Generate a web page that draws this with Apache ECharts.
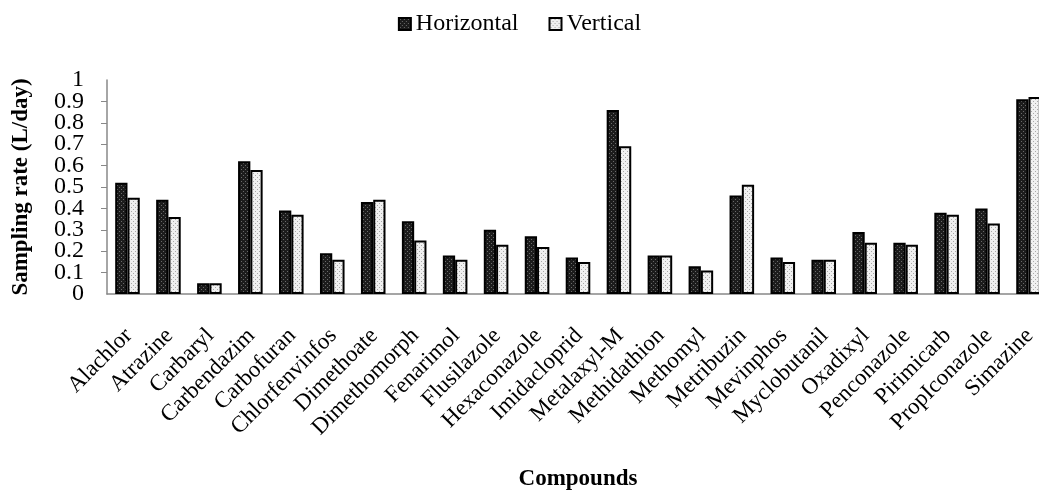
<!DOCTYPE html>
<html>
<head>
<meta charset="utf-8">
<script src="https://cdn.jsdelivr.net/npm/echarts@6/dist/echarts.min.js"></script>
<style>
  html, body { margin: 0; padding: 0; background: #fff; }
  #chart { width: 1039px; height: 491px; }
</style>
</head>
<body>
<div id="chart"></div>
<script>
var compounds = ['Alachlor', 'Atrazine', 'Carbaryl', 'Carbendazim', 'Carbofuran', 'Chlorfenvinfos',
    'Dimethoate', 'Dimethomorph', 'Fenarimol', 'Flusilazole', 'Hexaconazole', 'Imidacloprid',
    'Metalaxyl-M', 'Methidathion', 'Methomyl', 'Metribuzin', 'Mevinphos', 'Myclobutanil',
    'Oxadixyl', 'Penconazole', 'Pirimicarb', 'PropIconazole', 'Simazine'];

var horizontal = [0.52, 0.44, 0.05, 0.62, 0.39, 0.19, 0.43, 0.34, 0.18, 0.30, 0.27, 0.17,
    0.86, 0.18, 0.13, 0.46, 0.17, 0.16, 0.29, 0.24, 0.38, 0.40, 0.91];

var vertical = [0.45, 0.36, 0.05, 0.58, 0.37, 0.16, 0.44, 0.25, 0.16, 0.23, 0.22, 0.15,
    0.69, 0.18, 0.11, 0.51, 0.15, 0.16, 0.24, 0.23, 0.37, 0.33, 0.92];

var serif = '"Liberation Serif", "Times New Roman", serif';

// small dotted fill patterns, like the excel pattern fills
function makePattern(bg, dot, step) {
    var c = document.createElement('canvas');
    c.width = step; c.height = step;
    var ctx = c.getContext('2d');
    ctx.fillStyle = bg;
    ctx.fillRect(0, 0, step, step);
    ctx.fillStyle = dot;
    ctx.fillRect(1, 1, 1, 1);
    ctx.fillRect(Math.floor(step / 2) + 1, Math.floor(step / 2) + 1, 1, 1);
    return c;
}

var darkFill = { image: makePattern('#1c1c1c', '#6a6a6a', 4), repeat: 'repeat' };
var lightFill = { image: makePattern('#f0f0f0', '#a8a8a8', 4), repeat: 'repeat' };

var chart = echarts.init(document.getElementById('chart'));

var yLabel = {
    margin: 23,
    fontFamily: serif,
    fontSize: 24,
    color: '#000',
    formatter: function (v) { return String(Math.round(v * 10) / 10); }
};

var option = {
    animation: false,
    legend: {
        data: ['Horizontal', 'Vertical'],
        top: 7,
        left: 'center',
        icon: 'rect',
        itemWidth: 12,
        itemHeight: 12,
        itemGap: 30,
        textStyle: { fontFamily: serif, fontSize: 24, color: '#000' }
    },
    grid: {
        left: 107,
        right: -10,
        top: 80,
        bottom: 197,
        outerBoundsMode: 'none'
    },
    xAxis: {
        type: 'category',
        data: compounds,
        name: 'Compounds',
        nameLocation: 'middle',
        nameGap: 174,
        nameTextStyle: { fontFamily: serif, fontSize: 23, fontWeight: 'bold', color: '#000' },
        axisLine: { lineStyle: { color: '#888', width: 1.5 } },
        axisTick: { length: 6, lineStyle: { color: '#888' } },
        axisLabel: {
            rotate: 45,
            interval: 0,
            margin: 23,
            verticalAlign: 'top',
            padding: [0, 10, 0, 0],
            fontFamily: serif,
            fontSize: 23,
            color: '#000'
        }
    },
    yAxis: [
        {
            // main axis: line, ticks and the 0.1 .. 0.9 labels
            type: 'value',
            min: 0,
            max: 1,
            interval: 0.1,
            name: 'Sampling rate (L/day)',
            nameLocation: 'middle',
            nameGap: 74,
            nameTextStyle: {
                fontFamily: serif, fontSize: 23, fontWeight: 'bold', color: '#000',
                padding: [0, 0, 0, 0]
            },
            splitLine: { show: false },
            axisLine: { show: true, lineStyle: { color: '#888', width: 1.5 } },
            axisTick: { show: true, length: 6, lineStyle: { color: '#888' } },
            axisLabel: Object.assign({ showMinLabel: false, showMaxLabel: false }, yLabel)
        },
        {
            // same scale, only draws the 0 and 1 labels (they overlap their neighbours)
            type: 'value',
            position: 'left',
            min: 0,
            max: 1,
            interval: 1,
            splitLine: { show: false },
            axisLine: { show: false },
            axisTick: { show: false },
            axisLabel: yLabel
        }
    ],
    series: [
        {
            name: 'Horizontal',
            type: 'bar',
            data: horizontal,
            barGap: '0%',
            barCategoryGap: '40%',
            itemStyle: { color: darkFill, borderColor: '#000', borderWidth: 2 }
        },
        {
            name: 'Vertical',
            type: 'bar',
            data: vertical,
            itemStyle: { color: lightFill, borderColor: '#000', borderWidth: 2 }
        }
    ]
};

chart.setOption(option);
</script>
</body>
</html>
